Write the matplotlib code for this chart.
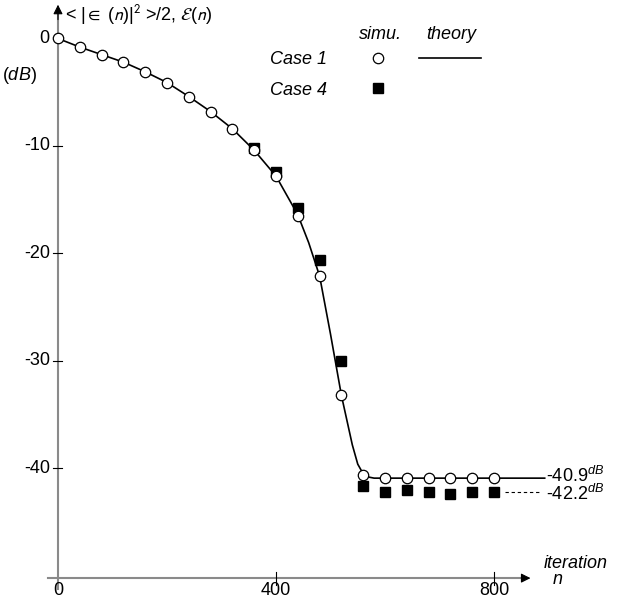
import matplotlib
matplotlib.use("Agg")
import matplotlib.pyplot as plt

plt.rcParams['font.family'] = ['Liberation Sans', 'DejaVu Sans']
plt.rcParams['mathtext.fontset'] = 'custom'
plt.rcParams['mathtext.rm'] = 'Liberation Sans'
plt.rcParams['mathtext.it'] = 'Liberation Sans:italic'
plt.rcParams['mathtext.fallback'] = 'stixsans'

# simulation, case 1 (open circles)
n_case1 = [0, 40, 80, 120, 160, 200, 240, 280, 320, 360, 400, 440, 480, 520, 560,
           600, 640, 680, 720, 760, 800]
db_case1 = [0.0, -0.8, -1.5, -2.2, -3.1, -4.1, -5.4, -6.8, -8.4, -10.4, -12.8, -16.5,
            -22.1, -33.2, -40.6, -40.9, -40.9, -40.9, -40.9, -40.9, -40.9]

# simulation, case 4 (filled squares)
n_case4 = [360, 400, 440, 480, 520, 560, 600, 640, 680, 720, 760, 800]
db_case4 = [-10.2, -12.4, -15.8, -20.6, -30.0, -41.6, -42.2, -42.0, -42.2, -42.4, -42.2, -42.2]

# theory curve
n_theory = [0, 40, 80, 120, 160, 200, 240, 280, 320, 360, 400, 440, 460, 480, 500,
            520, 530, 540, 550, 560, 570, 580, 893]
db_theory = [0.0, -0.8, -1.5, -2.2, -3.1, -4.1, -5.4, -6.8, -8.4, -10.4, -12.8, -16.4,
             -19.0, -22.1, -27.5, -33.2, -35.5, -37.8, -39.6, -40.5, -40.8, -40.9, -40.9]

# steady-state levels
ss_case1 = -40.9
ss_case4 = -42.2

yticks = [0, -10, -20, -30, -40]
xticks = [0, 400, 800]

fs = 13

fig = plt.figure(figsize=(6.27, 5.98), dpi=100)
ax = fig.add_axes([0, 0, 1, 1])
ax.set_xlim(-106.4, 1044.0)
ax.set_ylim(-52.05, 3.58)
ax.axis('off')

axis_col = '#8a8a8a'
x_axis_y = -50.2

# axes with arrows
ax.plot([-18, 860], [x_axis_y, x_axis_y], color=axis_col, lw=1.5, zorder=1)
ax.plot([0, 0], [-51.2, 2.5], color=axis_col, lw=1.5, zorder=1)
ax.annotate('', xy=(872, x_axis_y), xytext=(845, x_axis_y),
            arrowprops=dict(arrowstyle='-|>', color='black', lw=0.8, mutation_scale=14))
ax.annotate('', xy=(0, 3.4), xytext=(0, 1.5),
            arrowprops=dict(arrowstyle='-|>', color='black', lw=0.8, mutation_scale=14))

# y ticks and labels
for v in yticks:
    if v != 0:
        ax.plot([-9, 7], [v, v], color='black', lw=0.8, zorder=1)
    ax.text(-15, v, str(v), ha='right', va='center', fontsize=fs)

# x ticks and labels
for v in xticks:
    if v != 0:
        ax.plot([v, v], [x_axis_y - 0.6, x_axis_y + 0.6], color='black', lw=0.8, zorder=1)
    ax.text(v, -50.55, str(v), ha='center', va='top', fontsize=fs)

# theory curves
ax.plot(n_theory, db_theory, color='black', lw=1.2, zorder=2)
ax.plot([820, 885], [ss_case4, ss_case4], color='black', lw=0.8, ls=(0, (3, 2.5)), zorder=2)

# simulations
ax.plot(n_case4, db_case4, ls='none', marker='s', ms=6.5, color='black', zorder=3)
ax.plot(n_case1, db_case1, ls='none', marker='o', ms=7.5, mfc='white', mec='black',
        mew=0.9, zorder=4)

# steady-state annotations
ax.text(895, ss_case1 + 0.25, '%.1f$^{dB}$' % ss_case1, ha='left', va='center', fontsize=fs)
ax.text(895, ss_case4 - 0.15, '%.1f$^{dB}$' % ss_case4, ha='left', va='center', fontsize=fs)

# axis titles
ax.text(12.8, 2.2, r'< |$\in$ ($n$)|$^2$ >/2, $\mathcal{E}$($n$)', ha='left', va='center',
        fontsize=fs, math_fontfamily='stixsans')
ax.text(-71.5, -3.4, '($dB$)', ha='center', va='center', fontsize=fs)
ax.text(949, -48.8, 'iteration', ha='center', va='center', fontsize=fs, style='italic')
ax.text(917, -50.3, 'n', ha='center', va='center', fontsize=fs, style='italic')

# legend
ax.text(591, 0.33, 'simu.', ha='center', va='center', fontsize=fs, style='italic')
ax.text(721, 0.33, 'theory', ha='center', va='center', fontsize=fs, style='italic')
ax.text(494, -2.0, 'Case 1', ha='right', va='center', fontsize=fs, style='italic')
ax.text(494, -4.8, 'Case 4', ha='right', va='center', fontsize=fs, style='italic')
ax.plot([587], [-1.8], ls='none', marker='o', ms=7.5, mfc='white', mec='black', mew=0.9)
ax.plot([662, 776], [-1.8, -1.8], color='black', lw=1.2)
ax.plot([587], [-4.6], ls='none', marker='s', ms=6.5, color='black')

fig.savefig('out.png', dpi=100)
